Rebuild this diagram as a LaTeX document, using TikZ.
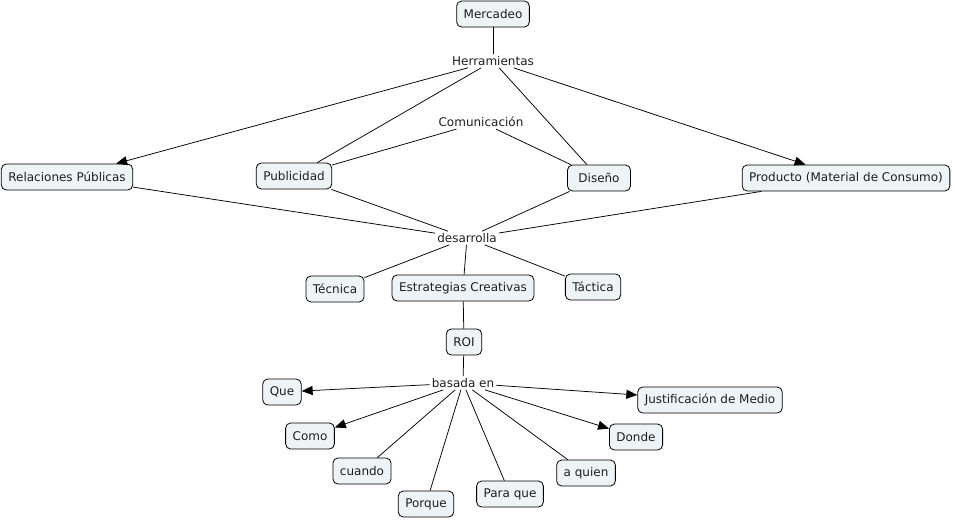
\documentclass[tikz,border=0pt]{standalone}
\usepackage{fontspec}
\setmainfont{DejaVu Sans}
\usetikzlibrary{arrows.meta}
\definecolor{boxfill}{RGB}{238,244,245}
\definecolor{txt}{RGB}{30,30,30}
\tikzset{
  concept/.style={draw=black, fill=boxfill, rounded corners=5pt, line width=0.8pt,
    minimum height=26pt, inner xsep=7pt, inner ysep=3pt, font=\fontsize{12}{14}\selectfont, text=txt},
  linkword/.style={inner sep=2pt, font=\fontsize{12}{14}\selectfont, text=txt},
  conn/.style={draw=black, line width=0.75pt},
  arr/.style={conn, -{Triangle[length=11pt,width=9pt]}}
}
\begin{document}
\begin{tikzpicture}[x=1pt,y=-1pt]
\useasboundingbox (0,0) rectangle (955,520);
\node[concept] (mer) at (493,14) {Mercadeo};
\node[linkword] (her) at (493,61) {Herramientas};
\node[linkword] (com) at (481,122) {Comunicación};
\node[concept] (rel) at (67,177) {Relaciones Públicas};
\node[concept] (pub) at (294,176) {Publicidad};
\node[concept, minimum width=63pt] (dis) at (599,178) {Diseño\hspace{5pt}};
\node[concept] (pro) at (846,178) {Producto (Material de Consumo)};
\node[linkword] (des) at (467,238) {desarrolla};
\node[concept] (tec) at (335,289) {Técnica};
\node[concept] (est) at (463,288) {Estrategias Creativas};
\node[concept] (tac) at (593,287) {Táctica};
\node[concept] (roi) at (464,342) {ROI};
\node[linkword] (bas) at (463,383) {basada en};
\node[concept] (que) at (282,392) {Que};
\node[concept] (jus) at (710,400) {Justificación de Medio};
\node[concept] (como) at (310,436) {Como};
\node[concept] (don) at (636,437) {Donde};
\node[concept] (cua) at (362,471) {cuando};
\node[concept] (aqu) at (586,473) {a quien};
\node[concept] (por) at (426,504) {Porque};
\node[concept] (par) at (510,494) {Para que};

\draw[conn] (mer) -- (her);
\draw[arr] (her) -- (rel);
\draw[conn] (her) -- (pub);
\draw[conn] (her) -- (dis);
\draw[arr] (her) -- (pro);
\draw[conn] (com) -- (pub);
\draw[conn] (com) -- (dis);
\draw[conn] (rel) -- (des);
\draw[conn] (pub) -- (des);
\draw[conn] (dis) -- (des);
\draw[conn] (pro) -- (des);
\draw[conn] (des) -- (tec);
\draw[conn] (des) -- (est);
\draw[conn] (des) -- (tac);
\draw[conn] (est) -- (roi);
\draw[conn] (roi) -- (bas);
\draw[arr] (bas) -- (que);
\draw[arr] (bas) -- (como);
\draw[arr] (bas) -- (jus);
\draw[arr] (bas) -- (don);
\draw[conn] (bas) -- (cua);
\draw[conn] (bas) -- (por);
\draw[conn] (bas) -- (par);
\draw[conn] (bas) -- (aqu);
\end{tikzpicture}
\end{document}
